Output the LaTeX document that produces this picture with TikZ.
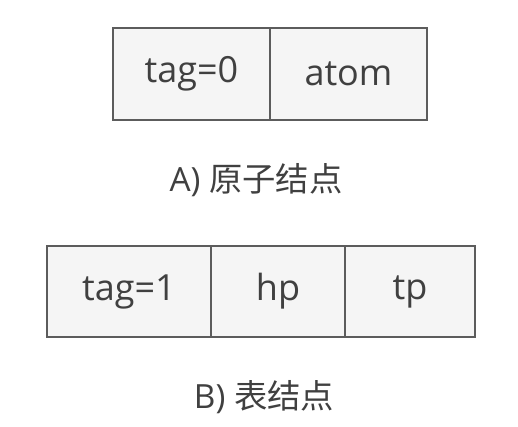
\documentclass[tikz,border=0pt]{standalone}
\usepackage{fontspec}
\setmainfont{Open Sans}
\newfontfamily\cjk{Noto Sans CJK SC}
\definecolor{cellfill}{HTML}{F5F5F5}
\definecolor{celldraw}{HTML}{5C5C5C}
\definecolor{celltext}{HTML}{404040}
\tikzset{
  cell/.style={draw=celldraw, fill=cellfill, line width=1.3pt, inner sep=0pt,
    text=celltext, font=\fontsize{27}{30}\selectfont},
  caption/.style={text=celltext, inner sep=0pt, font=\fontsize{25}{28}\selectfont}
}
\begin{document}
\begin{tikzpicture}[x=0.75pt,y=-0.75pt]
 \def\u{0.75pt}
 \useasboundingbox (0,0) rectangle (518,426);

 % atom node
 \node[cell, minimum width=157*\u, minimum height=92*\u] (tag0) at (191.5,74) {tag=0};
 \node[cell, minimum width=157*\u, minimum height=92*\u] (atom) at (348.5,74) {atom};
 \node[caption] (capA) at (256,180) {A) {\cjk 原子结点}};

 % list node
 \node[cell, minimum width=164*\u, minimum height=91*\u] (tag1) at (129,291.5) {tag=1};
 \node[cell, minimum width=134*\u, minimum height=91*\u] (hp) at (278,291.5) {hp};
 \node[cell, minimum width=130*\u, minimum height=91*\u] (tp) at (410,291.5) {tp};
 \node[caption] (capB) at (264,397) {B) {\cjk 表结点}};
\end{tikzpicture}
\end{document}
